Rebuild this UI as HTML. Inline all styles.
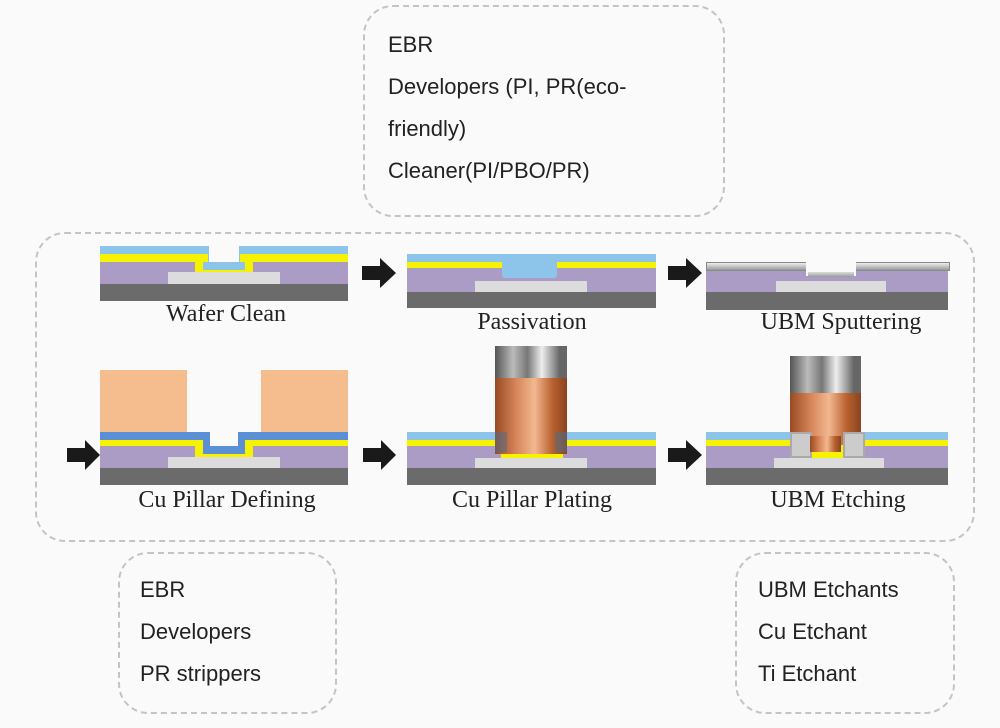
<!DOCTYPE html><html><head><style>
body{margin:0;width:1000px;height:728px;background:#fafafa;position:relative;overflow:hidden;font-family:"Liberation Sans",sans-serif}
.a{position:absolute}
.box{position:absolute;border:2px dashed #c4c4c4;border-radius:30px}
.txt{position:absolute;font-size:22px;color:#222;line-height:42px}
.lab{position:absolute;font-family:"Liberation Serif",serif;font-size:24px;color:#222;text-align:center;width:260px}
.bl{background:#8cc4ea}.ye{background:#f7f200}.pu{background:#ab9cc6}.gr{background:#6b6b6b}.pd{background:#dcdcdc}
.cu{background:linear-gradient(90deg,#9a4a22,#d7875a 30%,#f2b890 55%,#b8612e 80%,#8a4420)}
.ag{background:linear-gradient(90deg,#555,#bbb 25%,#777 45%,#eee 65%,#666 90%)}
.pr{background:#f5bd8e}
</style></head><body>
<div class="box" style="left:363px;top:5px;width:358px;height:208px"></div>
<div class="txt" style="left:388px;top:24px">EBR<br>Developers (PI, PR(eco-<br>friendly)<br>Cleaner(PI/PBO/PR)</div>
<div class="box" style="left:35px;top:232px;width:936px;height:306px"></div>
<div class="box" style="left:118px;top:552px;width:215px;height:158px"></div>
<div class="txt" style="left:140px;top:569px">EBR<br>Developers<br>PR strippers</div>
<div class="box" style="left:735px;top:552px;width:216px;height:158px"></div>
<div class="txt" style="left:758px;top:569px">UBM Etchants<br>Cu Etchant<br>Ti Etchant</div>

<!-- Wafer clean -->
<div class="a" style="left:100px;top:246px;width:248px;height:55px">
<div class="a bl" style="left:0;top:0;width:248px;height:8px"></div>
<div class="a ye" style="left:0;top:8px;width:248px;height:8px"></div>
<div class="a pu" style="left:0;top:16px;width:248px;height:22px"></div>
<div class="a gr" style="left:0;top:38px;width:248px;height:17px"></div>
<div class="a ye" style="left:95px;top:8px;width:58px;height:22px"></div>
<div class="a bl" style="left:108px;top:0;width:32px;height:24px"></div>
<div class="a" style="left:103px;top:16px;width:42px;height:8px;background:#8cc4ea"></div>
<div class="a" style="left:109px;top:0;width:30px;height:16px;background:#fafafa"></div>
<div class="a pd" style="left:68px;top:26px;width:112px;height:12px"></div>
</div>
<div class="lab" style="left:96px;top:301px">Wafer Clean</div>

<!-- Passivation -->
<div class="a" style="left:407px;top:254px;width:249px;height:54px">
<div class="a bl" style="left:0;top:0;width:249px;height:8px"></div>
<div class="a ye" style="left:0;top:8px;width:249px;height:6px"></div>
<div class="a pu" style="left:0;top:14px;width:249px;height:24px"></div>
<div class="a gr" style="left:0;top:38px;width:249px;height:16px"></div>
<div class="a bl" style="left:95px;top:6px;width:55px;height:18px;border-radius:3px"></div>
<div class="a pd" style="left:68px;top:27px;width:112px;height:11px"></div>
</div>
<div class="lab" style="left:402px;top:309px">Passivation</div>

<!-- UBM sputtering -->
<div class="a" style="left:706px;top:262px;width:242px;height:48px">
<div class="a" style="left:0;top:0;width:242px;height:7px;background:linear-gradient(#eee,#999);border:1px solid #888"></div>
<div class="a pu" style="left:0;top:9px;width:242px;height:21px"></div>
<div class="a gr" style="left:0;top:30px;width:242px;height:18px"></div>
<div class="a" style="left:100px;top:0;width:50px;height:14px;background:#fafafa"></div>
<div class="a" style="left:102px;top:10px;width:46px;height:5px;background:linear-gradient(#ddd,#999)"></div>
<div class="a pd" style="left:70px;top:19px;width:110px;height:11px"></div>
</div>
<div class="lab" style="left:711px;top:309px">UBM Sputtering</div>

<!-- Cu pillar defining -->
<div class="a pr" style="left:100px;top:370px;width:87px;height:62px"></div>
<div class="a pr" style="left:261px;top:370px;width:87px;height:62px"></div>
<div class="a" style="left:100px;top:432px;width:248px;height:53px">
<div class="a" style="left:0;top:0;width:248px;height:8px;background:#5b8fd6"></div>
<div class="a ye" style="left:0;top:8px;width:248px;height:6px"></div>
<div class="a pu" style="left:0;top:14px;width:248px;height:22px"></div>
<div class="a gr" style="left:0;top:36px;width:248px;height:17px"></div>
<div class="a ye" style="left:95px;top:8px;width:58px;height:18px"></div>
<div class="a" style="left:103px;top:0;width:42px;height:22px;background:#5b8fd6"></div>
<div class="a" style="left:110px;top:0;width:28px;height:14px;background:#fafafa"></div>
<div class="a pd" style="left:68px;top:25px;width:112px;height:11px"></div>
</div>
<div class="lab" style="left:97px;top:487px">Cu Pillar Defining</div>

<!-- Cu pillar plating -->
<div class="a" style="left:407px;top:432px;width:249px;height:53px">
<div class="a bl" style="left:0;top:0;width:249px;height:8px"></div>
<div class="a ye" style="left:0;top:8px;width:249px;height:6px"></div>
<div class="a pu" style="left:0;top:14px;width:249px;height:22px"></div>
<div class="a gr" style="left:0;top:36px;width:249px;height:17px"></div>
<div class="a ye" style="left:94px;top:8px;width:62px;height:18px"></div>
<div class="a pd" style="left:68px;top:26px;width:112px;height:10px"></div>
</div>
<div class="a cu" style="left:495px;top:378px;width:72px;height:76px"></div>
<div class="a ag" style="left:495px;top:346px;width:72px;height:32px"></div>
<div class="a" style="left:495px;top:432px;width:12px;height:20px;background:rgba(80,110,140,.55)"></div>
<div class="a" style="left:555px;top:432px;width:12px;height:20px;background:rgba(80,110,140,.55)"></div>
<div class="lab" style="left:402px;top:487px">Cu Pillar Plating</div>

<!-- UBM etching -->
<div class="a" style="left:706px;top:432px;width:242px;height:53px">
<div class="a bl" style="left:0;top:0;width:242px;height:8px"></div>
<div class="a ye" style="left:0;top:8px;width:242px;height:6px"></div>
<div class="a pu" style="left:0;top:14px;width:242px;height:22px"></div>
<div class="a gr" style="left:0;top:36px;width:242px;height:17px"></div>
<div class="a ye" style="left:95px;top:8px;width:62px;height:18px"></div>
<div class="a pd" style="left:68px;top:26px;width:110px;height:10px"></div>
</div>
<div class="a cu" style="left:790px;top:393px;width:71px;height:52px"></div>
<div class="a ag" style="left:790px;top:356px;width:71px;height:37px"></div>
<div class="a" style="left:790px;top:432px;width:18px;height:22px;border:2px solid #aaa;background:#ccc"></div>
<div class="a" style="left:843px;top:432px;width:18px;height:22px;border:2px solid #aaa;background:#ccc"></div>
<div class="a cu" style="left:810px;top:436px;width:31px;height:16px"></div>
<div class="lab" style="left:708px;top:487px">UBM Etching</div>

<svg class="a" style="left:0;top:0" width="1000" height="728">
<g fill="#1a1a1a">
<polygon points="362,266 380,266 380,258 396,273 380,288 380,280 362,280"/>
<polygon points="668,266 686,266 686,258 702,273 686,288 686,280 668,280"/>
<polygon points="67,448 85,448 85,440 100,455 85,470 85,462 67,462"/>
<polygon points="363,448 381,448 381,440 396,455 381,470 381,462 363,462"/>
<polygon points="668,448 686,448 686,440 702,455 686,470 686,462 668,462"/>
</g></svg>
</body></html>
